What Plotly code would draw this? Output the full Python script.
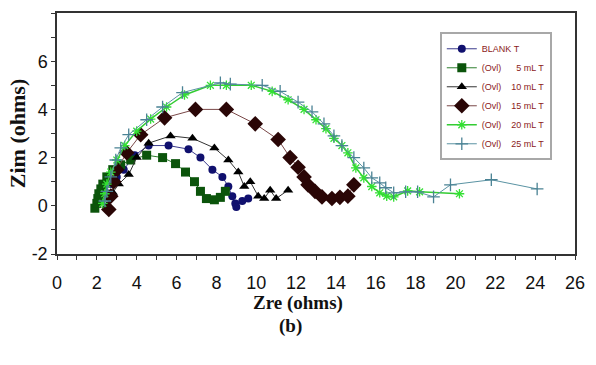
import plotly.graph_objects as go

# ---- data ----
blank_x = [2.2, 2.4, 2.7, 3.0, 3.35, 3.9, 4.6, 5.6, 6.6, 7.2, 7.8, 8.3, 8.6, 8.8, 8.95, 9.0, 9.3, 9.6]
blank_y = [0.2, 0.6, 0.9, 1.2, 1.5, 2.1, 2.5, 2.5, 2.35, 2.0, 1.5, 1.2, 0.8, 0.4, 0.1, -0.05, 0.2, 0.3]

ml5_x = [1.9, 2.0, 2.05, 2.1, 2.2, 2.3, 2.5, 2.8, 3.2, 3.7, 4.5, 5.3, 5.95, 6.45, 6.9, 7.2, 7.5, 7.9, 8.2, 8.45]
ml5_y = [-0.1, 0.1, 0.3, 0.5, 0.7, 0.9, 1.2, 1.5, 1.7, 1.9, 2.1, 2.0, 1.75, 1.4, 1.0, 0.6, 0.3, 0.25, 0.35, 0.6]

ml10_x = [2.5, 2.6, 2.8, 3.1, 3.6, 4.0, 4.6, 5.7, 6.8, 7.9, 8.6, 9.1, 9.4, 9.7, 10.1, 10.4, 10.7, 11.0, 11.6]
ml10_y = [0.0, 0.3, 0.55, 0.9, 1.3, 2.0, 2.6, 2.9, 2.8, 2.4, 1.9, 1.4, 0.8, 1.0, 0.4, 0.3, 0.65, 0.3, 0.65]

ml15_x = [2.6, 2.7, 2.85, 3.0, 3.5, 4.2, 5.4, 6.95, 8.5, 9.95, 11.1, 11.7, 12.1, 12.4, 12.6, 12.95, 13.3, 13.8, 14.2, 14.6, 14.9]
ml15_y = [-0.15, 0.4, 1.0, 1.5, 2.2, 2.95, 3.65, 4.0, 4.0, 3.4, 2.75, 2.0, 1.6, 1.2, 0.87, 0.6, 0.37, 0.3, 0.35, 0.4, 0.87]

ml20_x = [2.3, 2.4, 2.5, 2.7, 3.0, 3.4, 4.0, 4.7, 5.5, 6.4, 7.7, 8.5, 9.75, 10.8, 11.6, 12.4, 13.0, 13.5, 13.9,
          14.3, 14.6, 15.0, 15.4, 15.8, 16.2, 16.55, 16.9, 17.6, 18.2, 20.2]
ml20_y = [0.1, 0.5, 0.9, 1.4, 1.9, 2.5, 3.1, 3.6, 4.1, 4.6, 5.0, 5.0, 5.0, 4.75, 4.4, 4.0, 3.57, 3.2, 2.8,
          2.5, 2.2, 1.57, 1.16, 0.8, 0.54, 0.4, 0.37, 0.62, 0.58, 0.5]

ml25_x = [2.4, 2.5, 2.7, 2.95, 3.2, 3.6, 4.5, 5.3, 6.3, 8.2, 8.7, 10.3, 11.2, 12.1, 12.8, 13.4, 13.9, 14.3, 14.9,
          15.4, 15.8, 16.2, 16.5, 16.9, 17.5, 18.1, 18.9, 19.75, 21.8, 24.1]
ml25_y = [0.2, 0.6, 1.2, 1.9, 2.4, 2.95, 3.57, 4.1, 4.7, 5.1, 5.05, 5.0, 4.75, 4.3, 3.9, 3.4, 2.9, 2.5, 2.0,
          1.57, 1.16, 0.95, 0.75, 0.54, 0.58, 0.58, 0.37, 0.87, 1.08, 0.7]

names = ["BLANK T", "(Ovl)      5 mL T", "(Ovl)    10 mL T", "(Ovl)    15 mL T", "(Ovl)    20 mL T", "(Ovl)    25 mL T"]

x_ticks = list(range(0, 27, 2))
y_ticks = [-2, 0, 2, 4, 6]

# ---- figure ----
series = [
    (blank_x, blank_y, "circle", 8, "#10106e", "#3a3a8c", 1),
    (ml5_x, ml5_y, "square", 9, "#0b540b", "#2f7f2f", 1),
    (ml10_x, ml10_y, "triangle-up", 9, "#000000", "#333333", 1),
    (ml15_x, ml15_y, "diamond", 12, "#2a0606", "#7a4848", 1),
    (ml20_x, ml20_y, "asterisk-open", 8, "#33e033", "#33cc33", 1.5),
    (ml25_x, ml25_y, "cross-thin-open", 9, "#4a8294", "#5a93a3", 1),
]

fig = go.Figure()
for (xs, ys, sym, size, mcol, lcol, lw), nm in zip(series, names):
    marker = dict(symbol=sym, size=size, color=mcol)
    if sym.endswith("open"):
        marker["line"] = dict(color=mcol, width=1.3)
    fig.add_trace(go.Scatter(x=xs, y=ys, mode="lines+markers", name=nm,
                             line=dict(color=lcol, width=lw), marker=marker))

axis_common = dict(showgrid=False, zeroline=False, showline=True, linecolor="#333333",
                   linewidth=1.5, mirror=True, ticks="outside", ticklen=4, tickcolor="#333333",
                   tickfont=dict(family="Liberation Sans, Arial", size=18, color="#111111"))

fig.update_xaxes(range=[0, 26], tickvals=x_ticks, ticktext=[str(v) for v in x_ticks],
                 minor=dict(dtick=1, ticks="outside", ticklen=4, tickcolor="#333333"),
                 ticklabelstandoff=8,
                 **axis_common)
fig.update_yaxes(range=[-2, 8], tickvals=y_ticks, ticktext=[str(v) for v in y_ticks],
                 minor=dict(dtick=1, ticks="outside", ticklen=4, tickcolor="#333333"),
                 title=dict(text="<b>Zim (ohms)</b>", standoff=0,
                            font=dict(family="Liberation Serif, Times New Roman", size=22, color="#111111")),
                 **axis_common)

title_font = dict(family="Liberation Serif, Times New Roman", size=19, color="#111111")
fig.add_annotation(text="<b>Zre (ohms)</b>", xref="paper", yref="paper", x=0.465, y=-0.205,
                   showarrow=False, yanchor="middle", font=title_font)
fig.add_annotation(text="<b>(b)</b>", xref="paper", yref="paper", x=0.45, y=-0.30,
                   showarrow=False, yanchor="middle", font=title_font)

fig.update_layout(
    width=596, height=365,
    margin=dict(l=57, r=11, t=13, b=111),
    paper_bgcolor="white", plot_bgcolor="white",
    showlegend=True,
    legend=dict(x=0.739, y=0.92, xanchor="left", yanchor="top",
                bgcolor="white", bordercolor="#a8a8a8", borderwidth=2,
                font=dict(family="Liberation Sans, Arial", size=9, color="#8b1a1a"),
                tracegroupgap=0, itemwidth=30),
)

fig.write_html("out.html")
